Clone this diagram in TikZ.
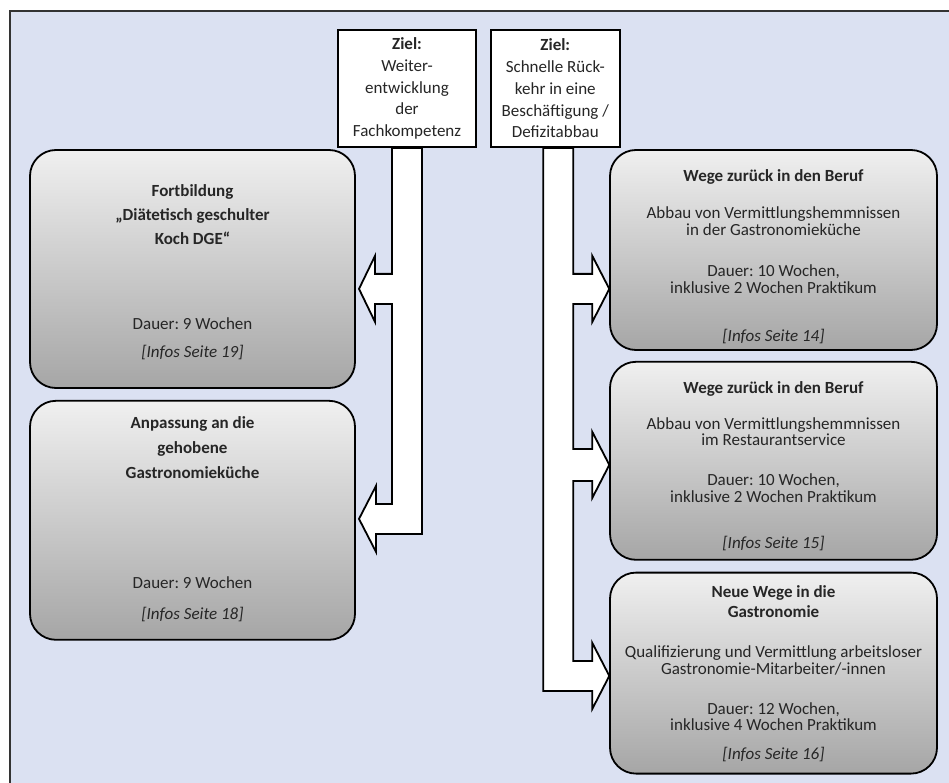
\documentclass[tikz,border=0pt]{standalone}
\usepackage{fontspec}
\setmainfont{Carlito}
\usepackage{tikz}
\usetikzlibrary{positioning,calc}
\frenchspacing
\definecolor{rbblue}{HTML}{DBE1F2}
\definecolor{rbtext}{HTML}{262626}
\newcommand\kursfont{\fontsize{17}{16.5}\selectfont\lineskiplimit=-20pt\relax}
\tikzset{
  rahmen/.style={draw=black!80, line width=1.5pt, fill=rbblue},
  zielbox/.style={draw=black, line width=1.8pt, fill=white, align=center,
    inner sep=2pt, minimum height=117pt, text=rbtext,
    font=\fontsize{17}{21.7}\selectfont},
  kurs/.style={draw=black, line width=1.8pt, rounded corners=26pt,
    top color=black!6, bottom color=black!35},
  kurstext/.style={align=center, inner sep=0pt, text=rbtext, font=\kursfont},
  blockarrow/.style={draw=black, line width=1.8pt, fill=white, line join=miter}
}

\begin{document}
\begin{tikzpicture}[x=1pt, y=-1pt, node distance=10pt]
    \fill[white] (0,0) rectangle (949,783);
    \useasboundingbox (0,0) rectangle (949,783);
    \draw[rahmen] (10,11) rectangle (970,800);

    \node[kurs, minimum width=325pt, minimum height=238pt] (fortb) at (192.5,269) {};
    \node[kurs, minimum width=325pt, minimum height=239pt, below=11pt of fortb] (anpass) {};
    \node[kurs, minimum width=327pt, minimum height=200pt] (wegeA) at (773.5,250) {};
    \node[kurs, minimum width=327pt, minimum height=198pt, below=10pt of wegeA] (wegeB) {};
    \node[kurs, minimum width=327pt, minimum height=201pt, below=11pt of wegeB] (neue) {};

    \node[kurstext, below=35pt of fortb.north] (fortbtxt) {\textbf{Fortbildung}\\[7.5pt]\textbf{„Diätetisch geschulter}\\[7.5pt]\textbf{Koch DGE“}\\[68.5pt]Dauer: 9 Wochen\\[11.5pt]\textit{[Infos Seite 19]}};
    \node[kurstext, below=16pt of anpass.north] (anpasstxt) {\textbf{Anpassung an die}\\[8.5pt]\textbf{gehobene}\\[8.5pt]\textbf{Gastronomieküche}\\[93.5pt]Dauer: 9 Wochen\\[14.5pt]\textit{[Infos Seite 18]}};
    \node[kurstext, below=20pt of wegeA.north] (wegeAtxt) {\textbf{Wege zurück in den Beruf}\\[20.8pt]Abbau von Vermittlungshemmnissen\\in der Gastronomieküche\\[25pt]Dauer: 10 Wochen,\\inklusive 2 Wochen Praktikum\\[32pt]\textit{[Infos Seite 14]}};
    \node[kurstext, below=20pt of wegeB.north] (wegeBtxt) {\textbf{Wege zurück in den Beruf}\\[19.5pt]Abbau von Vermittlungshemmnissen\\im Restaurantservice\\[23.5pt]Dauer: 10 Wochen,\\inklusive 2 Wochen Praktikum\\[30pt]\textit{[Infos Seite 15]}};
    \node[kurstext, below=14pt of neue.north] (neuetxt) {\textbf{Neue Wege in die}\\[3.5pt]\textbf{Gastronomie}\\[23.5pt]Qualifizierung und Vermittlung arbeitsloser\\Gastronomie-Mitarbeiter/-innen\\[23.5pt]Dauer: 12 Wochen,\\inklusive 4 Wochen Praktikum\\[12pt]\textit{[Infos Seite 16]}};

    \node[zielbox, minimum width=138pt] (zielA) at (407,88.5) {\textbf{Ziel:}\\Weiter-\\entwicklung\\der\\Fachkompetenz};
    \node[zielbox, minimum width=129pt, right=13pt of zielA] (zielB) {\textbf{Ziel:}\\Schnelle Rück-\\kehr in eine\\Beschäftigung /\\Defizitabbau};

    \draw[blockarrow] ($(zielA.south)+(-15,0)$) -- ++(0,126) -- ++(-17,0) -- ++(0,-18)
        -- ++(-16,33) -- ++(16,33) -- ++(0,-18) -- ++(17,0) -- ++(0,200)
        -- ++(-16,0) -- ++(0,-18) -- ++(-17,33) -- ++(17,33) -- ++(0,-18)
        -- ++(46,0) -- ($(zielA.south)+(15,0)$) -- cycle;
    \draw[blockarrow] ($(zielB.south)+(-12,0)$) -- ++(0,543) -- ++(49,0) -- ++(0,18)
        -- ++(17,-33) -- ++(-17,-33) -- ++(0,18) -- ++(-19,0) -- ++(0,-180)
        -- ++(19,0) -- ++(0,17) -- ++(17,-33) -- ++(-17,-33) -- ++(0,17)
        -- ++(-19,0) -- ++(0,-145) -- ++(19,0) -- ++(0,18) -- ++(17,-33)
        -- ++(-17,-33) -- ++(0,18) -- ++(-19,0) -- ($(zielB.south)+(18,0)$) -- cycle;
\end{tikzpicture}
\end{document}
